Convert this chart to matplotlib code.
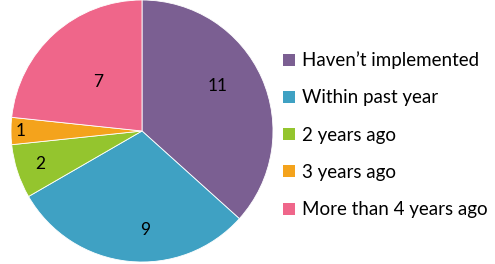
import numpy as np
import matplotlib.pyplot as plt

categories = ["Haven\u2019t implemented", "Within past year", "2 years ago",
              "3 years ago", "More than 4 years ago"]
values = [11, 9, 2, 1, 7]
colors = ["#7B5F92", "#3FA1C3", "#94C52E", "#F4A31C", "#EF668A"]
# where each number sits: fraction of radius, and a nudge off the mid-angle (deg)
label_dist = [0.67, 0.76, 0.82, 0.93, 0.5]
label_turn = [6.5, 8.0, 0, 0, 0]

plt.rcParams['font.family'] = ['Lato', 'DejaVu Sans']

fig = plt.figure(figsize=(4.95, 2.64), dpi=100)
# pie area: centre ~ (142, 133) px, radius ~131 px
ax = fig.add_axes([11 / 495, 2 / 264, 262 / 495, 262 / 264])
wedges, _ = ax.pie(values, colors=colors, startangle=90, counterclock=False,
                   wedgeprops=dict(edgecolor="white", linewidth=0.6))
for w, v, d, t in zip(wedges, values, label_dist, label_turn):
    mid = np.deg2rad((w.theta1 + w.theta2) / 2 + t)
    ax.text(d * np.cos(mid), d * np.sin(mid), str(v), ha="center",
            va="center", fontsize=12.5, color="black")
ax.set_xlim(-1, 1)
ax.set_ylim(-1, 1)
ax.set_aspect("equal")

leg = fig.legend(wedges, categories, loc="upper left",
                 bbox_to_anchor=(274 / 495, 1 - 42 / 264), frameon=False,
                 fontsize=13.5, handlelength=0.62, handleheight=0.62,
                 handletextpad=0.35, labelspacing=1.08, borderpad=0)
for h in leg.legend_handles:
    h.set_edgecolor("none")

fig.savefig("out.png", dpi=100)
